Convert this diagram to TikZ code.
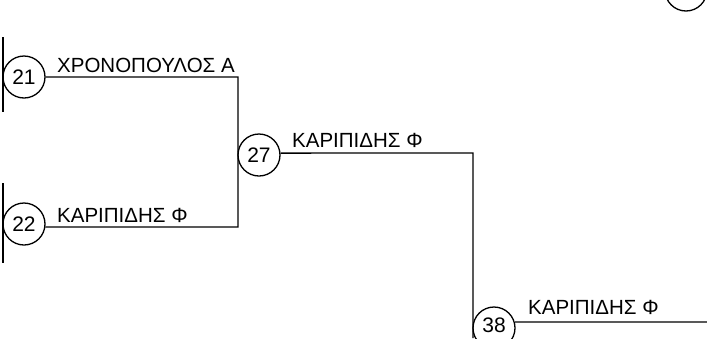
\documentclass[tikz,border=0pt]{standalone}
\usepackage{fontspec}
\setmainfont{Liberation Sans}
\begin{document}
\begin{tikzpicture}[x=1pt,y=-1pt,
  rnd/.style={draw=black,circle,line width=1.3pt,minimum size=42pt,inner sep=0pt,font=\fontsize{21}{21}\selectfont},
  lbl/.style={anchor=base west,inner sep=0pt,font=\fontsize{20.5}{20.5}\selectfont},
  wire/.style={draw=black,line width=1.3pt}]
\useasboundingbox (0,0) rectangle (707,338);
\clip (0,0) rectangle (707,338);
% nodes
\node[rnd] (c21) at (24,77) {21};
\node[rnd] (c22) at (24,224) {22};
\node[rnd] (c27) at (259,155) {27};
\node[rnd] (c38) at (494,328) {\raisebox{6pt}{38}};
\node[rnd] (ctop) at (686,-10) {};
% labels
\node[lbl] (t21) at (57,72) {ΧΡΟΝΟΠΟΥΛΟΣ Α};
\node[lbl] (t22) at (57,222) {ΚΑΡΙΠΙΔΗΣ Φ};
\node[lbl] (t27) at (292,147) {ΚΑΡΙΠΙΔΗΣ Φ};
\node[lbl] (t38) at (528,314) {ΚΑΡΙΠΙΔΗΣ Φ};
% coordinates
\coordinate (j21) at (238,77);
\coordinate (j22) at (238,227);
\coordinate (j27) at (473,153);
\coordinate (j38b) at (473,338);
\coordinate (e38) at (707,322);
\coordinate (l21a) at (3,37);
\coordinate (l21b) at (3,112);
\coordinate (l22a) at (3,183);
\coordinate (l22b) at (3,263);
% connectors
\draw[wire] (l21a) -- (l21b);
\draw[wire] (l22a) -- (l22b);
\draw[wire] (c21.east) -- (j21) -- (j22) -- (c22.-8);
\draw[wire] (c27.5) -- (j27) -- (j38b);
\draw[wire] (c38.16) -- (e38);
\end{tikzpicture}
\end{document}
